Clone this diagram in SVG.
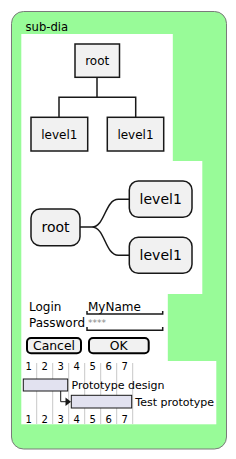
<svg xmlns="http://www.w3.org/2000/svg" width="236" height="459" viewBox="0 0 236 459">
<style>
text{font-family:"DejaVu Sans",sans-serif;fill:#000}
.box{fill:#F1F1F1;stroke:#181818;stroke-width:1.5}
.ln{fill:none;stroke:#181818;stroke-width:1.5}
.grid{stroke:#C8C8C8;stroke-width:1}
.bar{fill:#E2E2F0;stroke:#181818;stroke-width:1}
.btn{fill:#F1F1F1;stroke:#000;stroke-width:2}
.num{font-size:10px;text-anchor:middle}
</style>
<g id="frame">
<rect x="11.5" y="11.5" width="215" height="437.5" rx="12" fill="#98FB98" stroke="#7A7A7A" stroke-width="1"/>
<text x="25.5" y="30.5" font-size="11.6">sub-dia</text>
<rect x="21.3" y="34" width="151.5" height="127" fill="#fff"/>
<rect x="21.3" y="161" width="181" height="133" fill="#fff"/>
<rect x="21.3" y="294" width="146.5" height="67" fill="#fff"/>
<rect x="21.3" y="361" width="195" height="63.3" fill="#fff"/>
</g>
<g id="connectors">
<path class="ln" d="M97,77.3 V97.3 M59,117.3 V97.3 H135.7 V117.3"/>
<path class="ln" d="M80,227 H92 C105,227 105,199.3 118.3,199.3 H129.3 M92,227 C105,227 105,255.3 118.3,255.3 H129.3"/>
</g>
<g id="wbs-root">
<rect class="box" x="75" y="44" width="44.5" height="33.3"/>
<text x="97.2" y="65" font-size="12" text-anchor="middle">root</text>
</g>
<g id="wbs-level1-a">
<rect class="box" x="31" y="117.3" width="56.7" height="33.7"/>
<text x="59.3" y="139.3" font-size="12" text-anchor="middle">level1</text>
</g>
<g id="wbs-level1-b">
<rect class="box" x="107.3" y="117.3" width="56.4" height="33.7"/>
<text x="135.5" y="139.3" font-size="12" text-anchor="middle">level1</text>
</g>
<g id="mm-root">
<rect class="box" x="31" y="209" width="49" height="36.7" rx="9"/>
<text x="55.5" y="231.7" font-size="14" text-anchor="middle">root</text>
</g>
<g id="mm-level1-a">
<rect class="box" x="129.3" y="181" width="62.7" height="36.3" rx="9"/>
<text x="160.7" y="204.3" font-size="14" text-anchor="middle">level1</text>
</g>
<g id="mm-level1-b">
<rect class="box" x="129.3" y="237.3" width="62.7" height="36" rx="9"/>
<text x="160.7" y="260.3" font-size="14" text-anchor="middle">level1</text>
</g>
<g id="form">
<text x="29" y="310.7" font-size="12">Login</text>
<text x="88" y="310.7" font-size="12">MyName</text>
<path class="ln" d="M87,311 V314 H162.7 V311"/>
<text x="29" y="326.7" font-size="12">Password</text>
<text x="88" y="326" font-size="9" style="fill:#888">****</text>
<path class="ln" d="M87,327 V330.3 H162.7 V327"/>
<rect class="btn" x="27" y="338" width="54" height="15.3" rx="4"/>
<text x="54" y="349.5" font-size="12.4" text-anchor="middle">Cancel</text>
<rect class="btn" x="89" y="338" width="59.7" height="15.3" rx="4"/>
<text x="118.8" y="349.5" font-size="12.4" text-anchor="middle">OK</text>
</g>
<g id="gantt">
<path class="grid" d="M36.7,363 V424 M52.7,363 V424 M68.7,363 V424 M84.7,363 V424 M100.7,363 V424 M116.7,363 V424 M132.7,363 V424"/>
<g class="num">
<text x="28.7" y="370">1</text><text x="44.7" y="370">2</text><text x="60.7" y="370">3</text><text x="76.7" y="370">4</text><text x="92.7" y="370">5</text><text x="108.7" y="370">6</text><text x="124.7" y="370">7</text>
<text x="28.7" y="422.5">1</text><text x="44.7" y="422.5">2</text><text x="60.7" y="422.5">3</text><text x="76.7" y="422.5">4</text><text x="92.7" y="422.5">5</text><text x="108.7" y="422.5">6</text><text x="124.7" y="422.5">7</text>
</g>
</g>
<g id="task-design">
<rect class="bar" x="23.3" y="379" width="44.4" height="12"/>
<text x="71.5" y="389" font-size="11">Prototype design</text>
</g>
<g id="task-test">
<rect class="bar" x="71.3" y="395.3" width="60.4" height="12.7"/>
<text x="135.3" y="406" font-size="11">Test prototype</text>
</g>
<g id="gantt-link">
<path d="M60.7,391 V401.7 H66" fill="none" stroke="#181818" stroke-width="1"/>
<polygon points="65.5,397.5 71,401.7 65.5,405.9" fill="#181818"/>
</g>
</svg>
